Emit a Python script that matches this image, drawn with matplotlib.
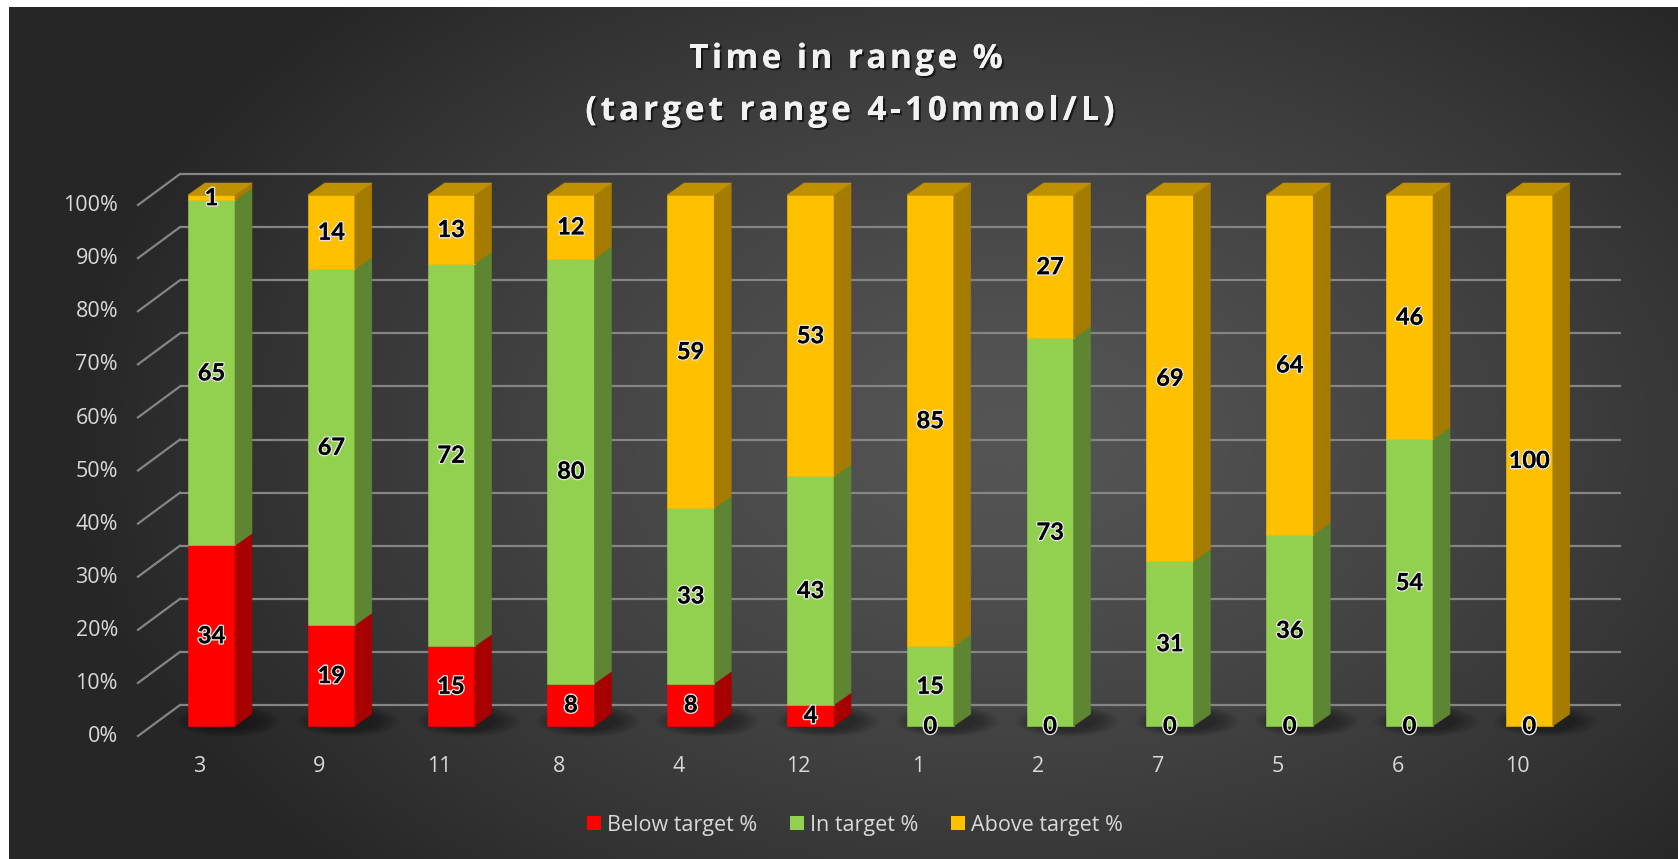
import numpy as np
import matplotlib
matplotlib.use("Agg")
import matplotlib.pyplot as plt
from matplotlib.patches import Polygon, Rectangle, Ellipse, Patch
from matplotlib.font_manager import FontProperties, findfont
from matplotlib.ft2font import FT2Font
import matplotlib.patheffects as pe

# ---- data -------------------------------------------------------------
patients = ["3", "9", "11", "8", "4", "12", "1", "2", "7", "5", "6", "10"]
below_target = [34, 19, 15, 8, 8, 4, 0, 0, 0, 0, 0, 0]
in_target = [65, 67, 72, 80, 33, 43, 15, 73, 31, 36, 54, 0]
above_target = [1, 14, 13, 12, 59, 53, 85, 27, 69, 64, 46, 100]
series_names = ["Below target %", "In target %", "Above target %"]
y_ticks = [0, 10, 20, 30, 40, 50, 60, 70, 80, 90, 100]
y_tick_labels = [f"{t}%" for t in y_ticks]
title_lines = ["Time in range %", "(target range 4-10mmol/L)"]

# ---- styling ----------------------------------------------------------
FONT = ["Lato", "DejaVu Sans"]
AXFONT = ["Open Sans", "DejaVu Sans"]
front_cols = ["#FF0000", "#92D050", "#FFC000"]
side_cols = ["#A60000", "#5E8632", "#A67C00"]
top_cols = ["#C00000", "#76A83E", "#BF9000"]
text_col = "#D9D9D9"
grid_col = "#858585"

W, H, DPI = 1678, 859, 100
fig = plt.figure(figsize=(W / DPI, H / DPI), dpi=DPI, facecolor="white")

# dark radial gradient backdrop (white strip on top/left edge)
bg = fig.add_axes([9 / W, 0, 1 - 9 / W, 1 - 7 / H])
bh, bw = 852, 1669
yy, xx = np.mgrid[0:bh, 0:bw]
r = np.sqrt(((xx - 1000) / 950.0) ** 2 + ((yy - 430) / 620.0) ** 2)
lum = 0x55 - (0x55 - 0x26) * np.clip(r, 0, 1) ** 1.3
img = np.dstack([lum, lum, lum]) / 255.0
bg.imshow(img, aspect="auto", interpolation="bilinear")
bg.axis("off")

# ---- main axes: x in category units, y in percent ---------------------
ax = fig.add_axes([0, 0, 1, 1])
ax.set_facecolor("none")
PX_X, PX_Y = 119.8, 5.31          # pixels per category / per percent
X0, Y0 = 211.5, 726.0             # pixel position of (0, 0)
ax.set_xlim(-X0 / PX_X, (W - X0) / PX_X)
ax.set_ylim((Y0 - H) / PX_Y, Y0 / PX_Y)
ax.axis("off")

hw = 23.5 / PX_X                  # half width of bar front face
DX, DY = 17 / PX_X, 12 / PX_Y     # bar depth offset
WDY = 21 / PX_Y                   # back wall offset
FDY = -10 / PX_Y                  # front floor edge offset
wall_left = (180 - X0) / PX_X
floor_left = (138 - X0) / PX_X
wall_right = (1621 - X0) / PX_X

# gridlines on the back wall plus the left floor/wall diagonals
for v in y_ticks:
    ax.plot([wall_left, wall_right], [v + WDY, v + WDY], color=grid_col,
            lw=1.6, zorder=1, solid_capstyle="butt")
    ax.plot([floor_left, wall_left], [v + FDY, v + WDY], color=grid_col,
            lw=1.6, zorder=1)

for v, lab in zip(y_ticks, y_tick_labels):
    ax.text((118 - X0) / PX_X, v - 2.0, lab, ha="right", va="center",
            fontsize=15.5, color=text_col, family=AXFONT)

n = len(patients)
xs = np.arange(n)

# soft floor shadows
for i in xs:
    for k in range(7):
        s = 1 + k * 0.12
        ax.add_patch(Ellipse((i + 0.14, 0.9), 0.5 * s, 3.4 * s,
                             facecolor="black", edgecolor="none",
                             alpha=0.06, zorder=2))

series = [below_target, in_target, above_target]
bottoms = np.zeros(n)
tops_all = np.sum(series, axis=0)
for s_idx, vals in enumerate(series):
    vals = np.asarray(vals, dtype=float)
    for i in xs:
        b, v = bottoms[i], vals[i]
        if v > 0:
            t = b + v
            ax.add_patch(Rectangle((i - hw, b), 2 * hw, v,
                                   facecolor=front_cols[s_idx],
                                   edgecolor=front_cols[s_idx], lw=0.4,
                                   zorder=4))
            ax.add_patch(Polygon([(i + hw, b), (i + hw + DX, b + DY),
                                  (i + hw + DX, t + DY), (i + hw, t)],
                                 closed=True, facecolor=side_cols[s_idx],
                                 edgecolor=side_cols[s_idx], lw=0.4,
                                 zorder=4))
            if abs(t - tops_all[i]) < 1e-9:
                ax.add_patch(Polygon([(i - hw, t), (i + hw, t),
                                      (i + hw + DX, t + DY),
                                      (i - hw + DX, t + DY)],
                                     closed=True, facecolor=top_cols[s_idx],
                                     edgecolor=top_cols[s_idx], lw=0.4,
                                     zorder=4))
        bottoms[i] += v

# value labels
label_fx = [pe.withStroke(linewidth=2.2, foreground="#E0E0E0"), pe.Normal()]
bottoms = np.zeros(n)
for s_idx, vals in enumerate(series):
    for i in xs:
        v = vals[i]
        ax.text(i, bottoms[i] + v / 2.0, f"{v}", ha="center", va="center",
                fontsize=17, fontweight="bold", color="black", family=FONT,
                path_effects=label_fx, zorder=6)
        bottoms[i] += v

# category labels along the front floor edge
for i, p in zip(xs, patients):
    ax.text(i - 12 / PX_X, (Y0 - 766) / PX_Y, p, ha="center", va="center",
            fontsize=15.5, color=text_col, family=AXFONT)


# title with widened letter spacing
def spaced_text(s, cx_px, cy_px, size_pt, track_px, props, fx):
    fp = FontProperties(family="Open Sans", weight="bold", size=size_pt)
    font = FT2Font(findfont(fp))
    font.set_size(size_pt, DPI)
    adv = [font.load_char(ord(c)).linearHoriAdvance / 65536.0 for c in s]
    total = sum(adv) + track_px * (len(s) - 1)
    x = cx_px - total / 2.0
    for c, a in zip(s, adv):
        if c != " ":
            fig.text(x / W, 1 - cy_px / H, c, ha="left", va="baseline",
                     fontproperties=fp, path_effects=fx, **props)
        x += a + track_px


title_fx = [pe.withSimplePatchShadow(offset=(1.5, -1.5), shadow_rgbFace="black",
                                     alpha=0.6), pe.Normal()]
spaced_text(title_lines[0], 846, 68, 24, 3.4, {"color": "#F2F2F2"}, title_fx)
spaced_text(title_lines[1], 850, 120, 24, 3.9, {"color": "#F2F2F2"}, title_fx)

# legend
handles = [Patch(facecolor=c, edgecolor="none") for c in front_cols]
leg = fig.legend(handles, series_names, loc="center",
                 bbox_to_anchor=(855 / W, 1 - 825 / H), ncol=3, frameon=False,
                 handlelength=0.65, handleheight=0.65, handletextpad=0.3,
                 columnspacing=1.5, prop={"family": AXFONT, "size": 15.5})
for t in leg.get_texts():
    t.set_color(text_col)

fig.savefig("out.png", dpi=DPI, facecolor=fig.get_facecolor())
